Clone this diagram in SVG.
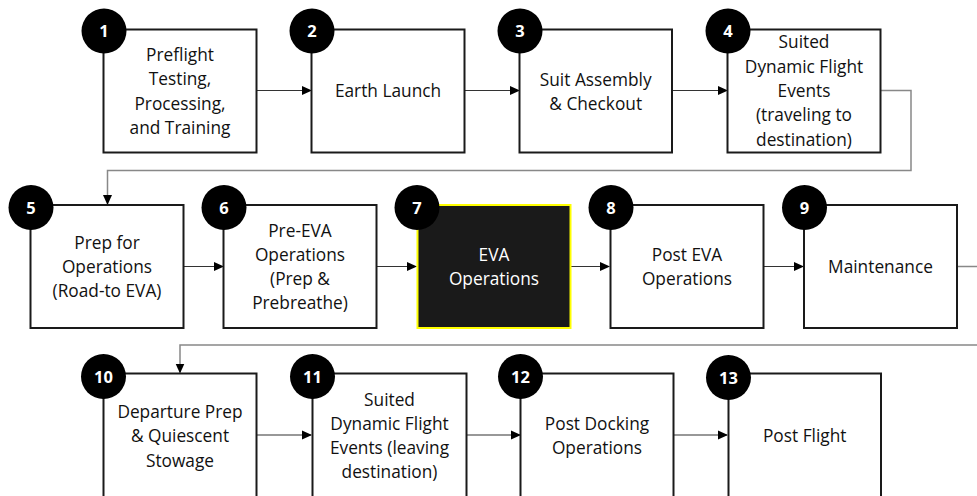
<svg xmlns="http://www.w3.org/2000/svg" width="977" height="496" viewBox="0 0 977 496">
<defs>
<style>
.box{fill:#fff;stroke:#1a1a1a;stroke-width:2}
.dark{fill:#1a1a1a;stroke:#ffff00;stroke-width:2}
.badge{fill:#000}
.num{font-family:"Open Sans","Liberation Sans",sans-serif;font-weight:bold;font-size:16.5px;fill:#fff;text-anchor:middle}
.lbl{font-family:"Open Sans","Liberation Sans",sans-serif;font-size:17.3px;fill:#111;text-anchor:middle}
.lblw{font-family:"Open Sans","Liberation Sans",sans-serif;font-size:17.3px;fill:#fff;text-anchor:middle}
.conn{fill:none;stroke:#333;stroke-width:1.2}
.wrap{fill:none;stroke:#888;stroke-width:1.5}
</style>
<marker id="ah" markerWidth="10" markerHeight="10" refX="9" refY="5" orient="auto" markerUnits="userSpaceOnUse">
<path d="M0,0.5 L10,5 L0,9.5 Z" fill="#000"/>
</marker>
</defs>
<rect width="977" height="496" fill="#fff"/>

<g id="connectors">
<line class="conn" x1="257" y1="90.5" x2="311" y2="90.5" marker-end="url(#ah)"/>
<line class="conn" x1="465" y1="90.5" x2="519" y2="90.5" marker-end="url(#ah)"/>
<line class="conn" x1="672" y1="90.5" x2="727" y2="90.5" marker-end="url(#ah)"/>
<path class="wrap" d="M881,90.5 H911 V170.5 H107.5 V204" marker-end="url(#ah)"/>
<line class="conn" x1="183" y1="266.5" x2="223" y2="266.5" marker-end="url(#ah)"/>
<line class="conn" x1="377" y1="266.5" x2="416" y2="266.5" marker-end="url(#ah)"/>
<line class="conn" x1="571" y1="266.5" x2="609" y2="266.5" marker-end="url(#ah)"/>
<line class="conn" x1="764" y1="266.5" x2="803" y2="266.5" marker-end="url(#ah)"/>
<path class="wrap" d="M957,266.5 H990 V345 H180 V372.5" marker-end="url(#ah)"/>
<line class="conn" x1="257" y1="435" x2="311" y2="435" marker-end="url(#ah)"/>
<line class="conn" x1="467" y1="435" x2="520" y2="435" marker-end="url(#ah)"/>
<line class="conn" x1="674" y1="435" x2="727" y2="435" marker-end="url(#ah)"/>
</g>

<g id="node1">
<rect class="box" x="103.5" y="29.5" width="153" height="123"/>
<circle class="badge" cx="104" cy="31" r="22.5"/>
<text class="num" x="104" y="37">1</text>
<text class="lbl" x="180" y="61">Preflight</text>
<text class="lbl" x="180" y="85.3">Testing,</text>
<text class="lbl" x="180" y="109.6">Processing,</text>
<text class="lbl" x="180" y="134">and Training</text>
</g>

<g id="node2">
<rect class="box" x="311.5" y="29.5" width="153" height="123"/>
<circle class="badge" cx="312" cy="31" r="22.5"/>
<text class="num" x="312" y="37">2</text>
<text class="lbl" x="388" y="97">Earth Launch</text>
</g>

<g id="node3">
<rect class="box" x="519.5" y="29.5" width="152.5" height="123"/>
<circle class="badge" cx="520" cy="31" r="22.5"/>
<text class="num" x="520" y="37">3</text>
<text class="lbl" x="595.7" y="85.5">Suit Assembly</text>
<text class="lbl" x="595.7" y="109.8">&amp; Checkout</text>
</g>

<g id="node4">
<rect class="box" x="727.5" y="29.5" width="153" height="123"/>
<circle class="badge" cx="728" cy="31" r="22.5"/>
<text class="num" x="728" y="37">4</text>
<text class="lbl" x="804" y="48.4">Suited</text>
<text class="lbl" x="804" y="72.7">Dynamic Flight</text>
<text class="lbl" x="804" y="97">Events</text>
<text class="lbl" x="804" y="121.3">(traveling to</text>
<text class="lbl" x="804" y="145.6">destination)</text>
</g>

<g id="node5">
<rect class="box" x="30.5" y="205" width="153" height="123"/>
<circle class="badge" cx="31" cy="207.5" r="22.5"/>
<text class="num" x="31" y="213.5">5</text>
<text class="lbl" x="107" y="248.8">Prep for</text>
<text class="lbl" x="107" y="273.1">Operations</text>
<text class="lbl" x="107" y="297.4">(Road-to EVA)</text>
</g>

<g id="node6">
<rect class="box" x="223.5" y="205" width="153" height="123"/>
<circle class="badge" cx="224" cy="207.5" r="22.5"/>
<text class="num" x="224" y="213.5">6</text>
<text class="lbl" x="300" y="236.5">Pre-EVA</text>
<text class="lbl" x="300" y="260.8">Operations</text>
<text class="lbl" x="300" y="285.1">(Prep &amp;</text>
<text class="lbl" x="300" y="309.4">Prebreathe)</text>
</g>

<g id="node7">
<rect class="dark" x="417.5" y="205" width="153" height="123"/>
<circle class="badge" cx="417" cy="207.5" r="22.5"/>
<text class="num" x="417" y="213.5">7</text>
<text class="lblw" x="494" y="260.6">EVA</text>
<text class="lblw" x="494" y="284.9">Operations</text>
</g>

<g id="node8">
<rect class="box" x="610.5" y="205" width="153" height="123"/>
<circle class="badge" cx="611" cy="207.5" r="22.5"/>
<text class="num" x="611" y="213.5">8</text>
<text class="lbl" x="687" y="260.6">Post EVA</text>
<text class="lbl" x="687" y="284.9">Operations</text>
</g>

<g id="node9">
<rect class="box" x="804" y="205" width="153" height="123"/>
<circle class="badge" cx="804.5" cy="207.5" r="22.5"/>
<text class="num" x="804.5" y="213.5">9</text>
<text class="lbl" x="880.5" y="272.8">Maintenance</text>
</g>

<g id="node10">
<rect class="box" x="103.5" y="373.5" width="153" height="123.5"/>
<circle class="badge" cx="103.5" cy="376.5" r="22.5"/>
<text class="num" x="103.5" y="382.5">10</text>
<text class="lbl" x="180" y="418">Departure Prep</text>
<text class="lbl" x="180" y="442.3">&amp; Quiescent</text>
<text class="lbl" x="180" y="466.6">Stowage</text>
</g>

<g id="node11">
<rect class="box" x="312.5" y="373.5" width="154" height="123.5"/>
<circle class="badge" cx="312.5" cy="376.5" r="22.5"/>
<text class="num" x="312.5" y="382.5">11</text>
<text class="lbl" x="389.5" y="405.5">Suited</text>
<text class="lbl" x="389.5" y="429.8">Dynamic Flight</text>
<text class="lbl" x="389.5" y="454.1">Events (leaving</text>
<text class="lbl" x="389.5" y="478.4">destination)</text>
</g>

<g id="node12">
<rect class="box" x="520.5" y="373.5" width="153" height="123.5"/>
<circle class="badge" cx="520.5" cy="376.5" r="22.5"/>
<text class="num" x="520.5" y="382.5">12</text>
<text class="lbl" x="597" y="429.5">Post Docking</text>
<text class="lbl" x="597" y="453.8">Operations</text>
</g>

<g id="node13">
<rect class="box" x="728.5" y="373.5" width="152.5" height="123.5"/>
<circle class="badge" cx="728.5" cy="377.5" r="22.5"/>
<text class="num" x="728.5" y="383.5">13</text>
<text class="lbl" x="804.7" y="441.5">Post Flight</text>
</g>
</svg>
